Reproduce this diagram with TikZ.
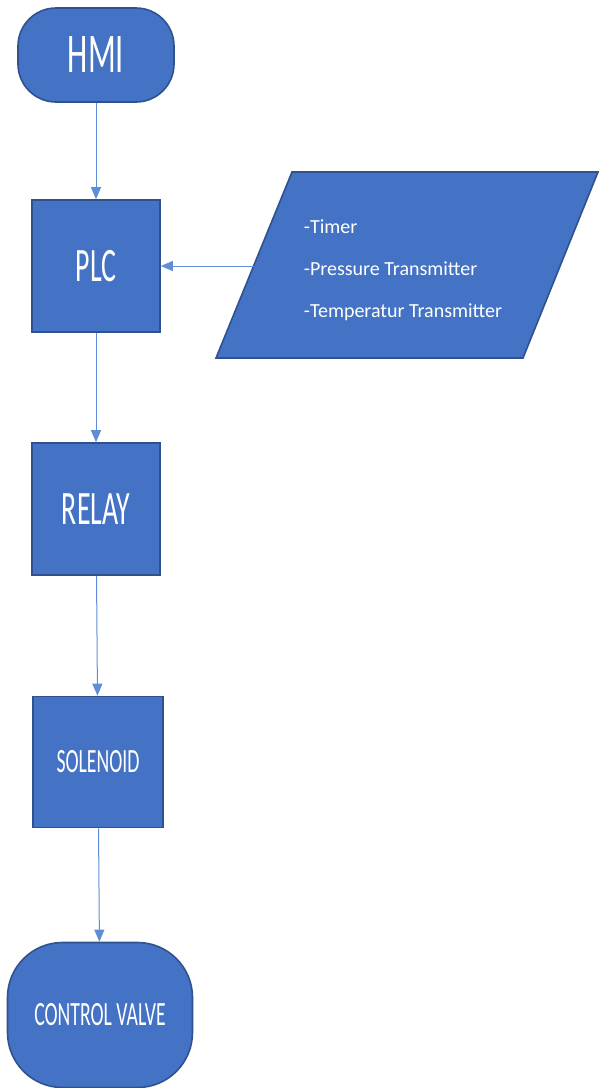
\documentclass[tikz,border=0pt]{standalone}
\usepackage{fontspec}
\setmainfont{Carlito}
\usetikzlibrary{arrows.meta}
\definecolor{boxblue}{RGB}{68,114,196}
\definecolor{edgeblue}{RGB}{47,82,143}
\definecolor{linkblue}{RGB}{96,142,214}
\newcommand{\boxlabel}[2]{\fontsize{#1}{#1}\selectfont\scalebox{0.58}[1]{#2}}

\begin{document}
\begin{tikzpicture}[x=1pt, y=-1pt,
    boxfill/.style={draw=edgeblue, line width=1.6pt, fill=boxblue},
    stepbox/.style={boxfill, text=white, inner sep=0pt, align=center},
    endbox/.style={stepbox, rounded corners=38pt},
    link/.style={draw=linkblue, line width=1pt,
                 -{Triangle[length=12pt,width=10pt]}}]
\useasboundingbox (0,0) rectangle (598,1088);

\node[endbox, minimum width=156pt, minimum height=94pt] (hmi) at (96,55)
  {\boxlabel{56}{HMI}};
\node[stepbox, minimum width=128pt, minimum height=132pt] (plc) at (96,266)
  {\boxlabel{48}{PLC}};
\node[stepbox, minimum width=128pt, minimum height=132pt] (relay) at (96,509)
  {\boxlabel{48}{RELAY}};
\node[stepbox, minimum width=130pt, minimum height=131pt] (solenoid) at (98,762)
  {\boxlabel{34}{SOLENOID}};
\node[endbox, rounded corners=55pt, minimum width=185pt, minimum height=145pt]
  (valve) at (100,1015) {\boxlabel{34}{CONTROL VALVE}};

% input parallelogram
\path[boxfill] (216,358) -- (292,172) -- (598,172) -- (523,358) -- cycle;
\coordinate (inputs edge) at (253.6,266);
\node[text=white, align=left, inner sep=0pt, font=\fontsize{20}{42}\selectfont]
  (inputs) at (403,270)
  {-Timer\\-Pressure Transmitter\\-Temperatur Transmitter};

\draw[link] (hmi) -- (plc);
\draw[link] (inputs edge) -- (plc);
\draw[link] (plc) -- (relay);
\draw[link] (relay) -- (solenoid);
\draw[link] (solenoid) -- (valve);
\end{tikzpicture}
\end{document}
